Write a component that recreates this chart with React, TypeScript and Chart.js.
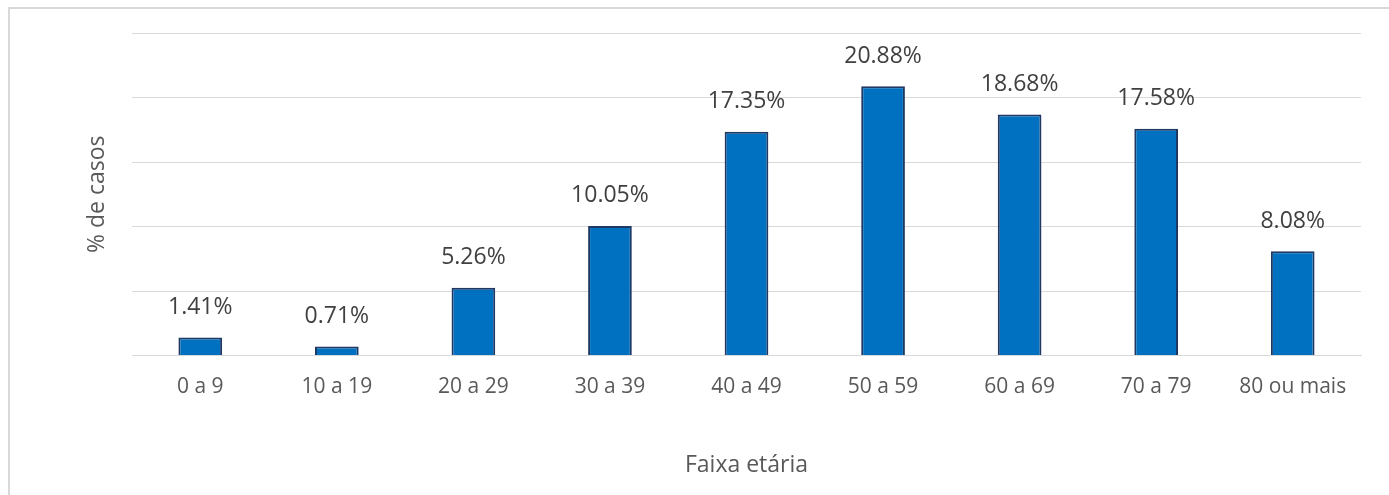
import React, { useEffect, useRef } from "react";
import { Chart, registerables } from "chart.js";

Chart.register(...registerables);

const categories = ["0 a 9", "10 a 19", "20 a 29", "30 a 39", "40 a 49", "50 a 59", "60 a 69", "70 a 79", "80 ou mais"];
const values = [1.41, 0.71, 5.26, 10.05, 17.35, 20.88, 18.68, 17.58, 8.08];
const valueLabels = ["1.41%", "0.71%", "5.26%", "10.05%", "17.35%", "20.88%", "18.68%", "17.58%", "8.08%"];
const yTitle = "% de casos";
const xTitle = "Faixa etária";

const FONT = "'Open Sans', 'Noto Sans', sans-serif";

const dataLabelPlugin = {
  id: "dataLabels",
  afterDatasetsDraw(chart: any) {
    const ctx = chart.ctx;
    const meta = chart.getDatasetMeta(0);
    ctx.save();
    ctx.font = `23px ${FONT}`;
    ctx.fillStyle = "#404040";
    ctx.textAlign = "center";
    ctx.textBaseline = "middle";
    meta.data.forEach((bar: any, i: number) => {
      ctx.fillText(valueLabels[i], bar.x, bar.y - 30);
    });
    ctx.restore();
  },
};

export default function App() {
  const ref = useRef<HTMLCanvasElement | null>(null);
  useEffect(() => {
    if (!ref.current) return;
    const chart = new Chart(ref.current, {
      type: "bar",
      data: {
        labels: categories,
        datasets: [
          {
            data: values,
            backgroundColor: "#0070C0",
            borderColor: "#1F3864",
            borderWidth: 2,
            barPercentage: 0.32,
            categoryPercentage: 1,
          },
        ],
      },
      options: {
        responsive: false,
        animation: false,
        devicePixelRatio: 1,
        layout: { padding: { left: 83.2, right: 28, top: 33, bottom: 16.2 } },
        plugins: { legend: { display: false }, tooltip: { enabled: false }, title: { display: false } },
        scales: {
          x: {
            grid: { display: false, drawTicks: false },
            border: { display: true, color: "#d9d9d9", width: 1 },
            ticks: { color: "#595959", font: { family: FONT, size: 21 }, padding: 18.4 },
            title: {
              display: true,
              text: xTitle,
              color: "#595959",
              font: { family: FONT, size: 23 },
              padding: { top: 33.6, bottom: 0 },
            },
          },
          y: {
            min: 0,
            max: 25,
            ticks: { display: false, stepSize: 5 },
            grid: { color: "#d9d9d9", lineWidth: 1, drawTicks: false },
            border: { display: false },
            title: {
              display: true,
              text: yTitle,
              color: "#595959",
              font: { family: FONT, size: 23 },
              padding: { top: 0, bottom: 21.2 },
            },
          },
        },
      },
      plugins: [dataLabelPlugin],
    });
    return () => chart.destroy();
  }, []);

  return (
    <div style={{ position: "absolute", left: 0, top: 0, width: 1389, height: 495, overflow: "hidden", background: "#fff" }}>
      <div
        style={{
          position: "absolute",
          left: 8,
          top: 7,
          right: -10,
          bottom: -10,
          borderLeft: "2px solid #d9d9d9",
          borderTop: "2px solid #d9d9d9",
        }}
      />
      <canvas ref={ref} width={1389} height={495} style={{ position: "absolute", left: 0, top: 0, width: 1389, height: 495 }} />
    </div>
  );
}
